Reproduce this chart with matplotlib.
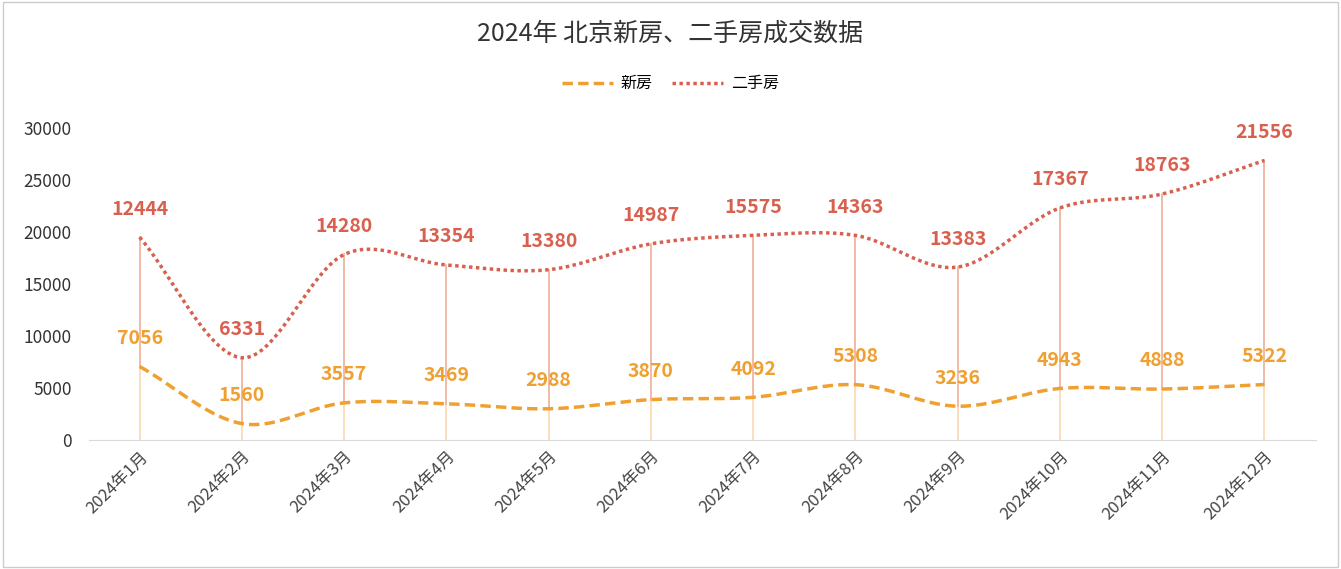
import matplotlib
matplotlib.use("Agg")
import matplotlib.pyplot as plt
from matplotlib import font_manager
import numpy as np
from matplotlib.patches import Rectangle

names = sorted({f.name for f in font_manager.fontManager.ttflist})
cjk = [n for n in names if "CJK SC" in n] + [n for n in names if "CJK" in n]
plt.rcParams["font.family"] = (cjk[:1] if cjk else []) + ["DejaVu Sans"]

months = [f"2024年{i}月" for i in range(1, 13)]
new_homes = [7056, 1560, 3557, 3469, 2988, 3870, 4092, 5308, 3236, 4943, 4888, 5322]
second_homes = [12444, 6331, 14280, 13354, 13380, 14987, 15575, 14363, 13383, 17367, 18763, 21556]

def smooth(x, y, n=20):
    x = np.asarray(x, float); y = np.asarray(y, float)
    P = np.concatenate([[2*y[0]-y[1]], y, [2*y[-1]-y[-2]]])
    xs, ys = [], []
    for i in range(len(y)-1):
        t = np.linspace(0, 1, n, endpoint=False)
        p0, p1, p2, p3 = P[i], P[i+1], P[i+2], P[i+3]
        yy = 0.5*((2*p1) + (-p0+p2)*t + (2*p0-5*p1+4*p2-p3)*t**2 + (-p0+3*p1-3*p2+p3)*t**3)
        xs.append(x[i] + t); ys.append(yy)
    xs.append([x[-1]]); ys.append([y[-1]])
    return np.concatenate(xs), np.concatenate(ys)

fig = plt.figure(figsize=(13.41, 5.69), dpi=100)
fig.patches.append(Rectangle((0.002, 0.003), 0.996, 0.994, transform=fig.transFigure,
                             fill=False, edgecolor="#cccccc", lw=1))
ax = fig.add_axes([0.066, 0.227, 0.915, 0.548])

x = np.arange(len(months))
stack = np.array(new_homes) + np.array(second_homes)
c_new = "#f0a030"
c_sec = "#d9604f"

for i in x:
    ax.plot([i, i], [0, new_homes[i]], color="#fbd9b0", lw=1.2, zorder=1)
    ax.plot([i, i], [new_homes[i], stack[i]], color="#eeae96", lw=1.2, zorder=1)

sx, sy = smooth(x, new_homes)
ax.plot(sx, sy, color=c_new, lw=2.5, ls=(0, (3, 1.5)), label="新房", zorder=3)
sx2, sy2 = smooth(x, stack)
ax.plot(sx2, sy2, color=c_sec, lw=2.5, ls=(0, (1, 1)), label="二手房", zorder=3)

for i in x:
    ax.text(i, new_homes[i] + 2700, str(new_homes[i]), color=c_new, ha="center", va="center",
            fontsize=14, fontweight="bold")
    ax.text(i, stack[i] + 2700, str(second_homes[i]), color=c_sec, ha="center", va="center",
            fontsize=14, fontweight="bold")

ax.set_xlim(-0.5, 11.5)
ax.set_ylim(0, 30000)
ax.set_yticks(range(0, 30001, 5000))
ax.set_xticks(x)
ax.set_xticklabels(months, rotation=45, ha="right", rotation_mode="anchor", fontsize=12, color="#444444")
ax.tick_params(axis="y", labelsize=12.5, colors="#333333", length=0, pad=12)
ax.tick_params(axis="x", length=0, pad=6)
for s in ["top", "right", "left"]:
    ax.spines[s].set_visible(False)
ax.spines["bottom"].set_color("#d9d9d9")

fig.text(0.5, 0.94, "2024年 北京新房、二手房成交数据", ha="center", va="center", fontsize=18, color="#333333")
fig.legend(loc="center", bbox_to_anchor=(0.5, 0.853), ncol=2, frameon=False, fontsize=11.5,
           handlelength=3.2, columnspacing=1.2, handletextpad=0.5)

fig.savefig("out.png", dpi=100)
